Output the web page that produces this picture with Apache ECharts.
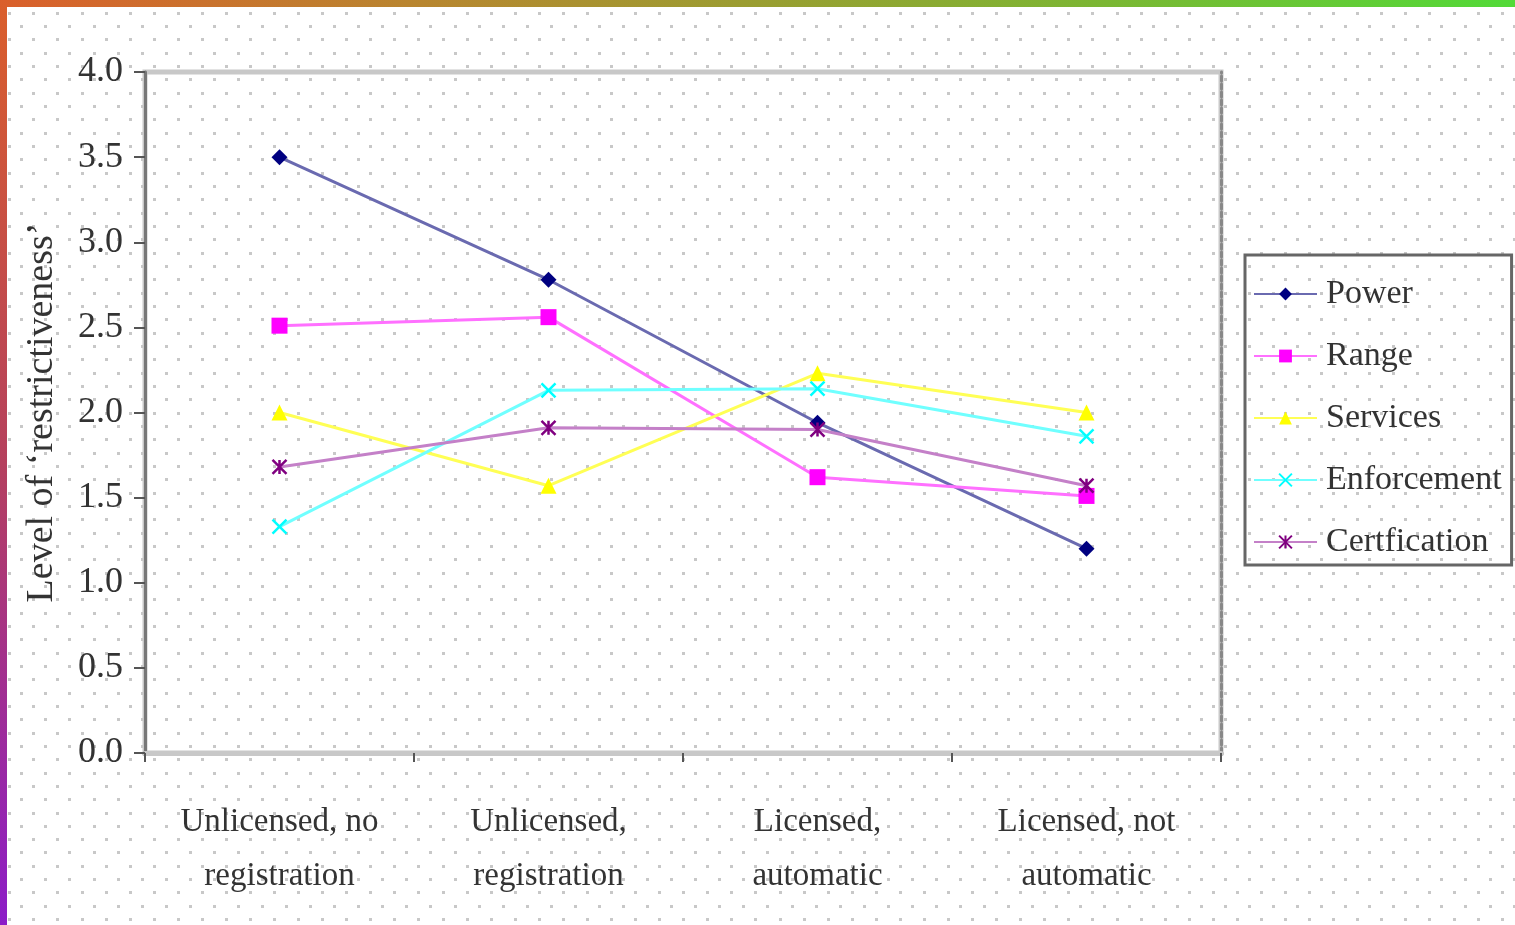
<!DOCTYPE html>
<html>
<head>
<meta charset="utf-8">
<title>Level of restrictiveness by licensing regime</title>
<script src="https://cdn.jsdelivr.net/npm/echarts@6/dist/echarts.min.js"></script>
<style>
  html, body { margin: 0; padding: 0; background: #ffffff; }
  #chart { width: 1515px; height: 925px; }
</style>
</head>
<body>
<div id="chart"></div>
<script>
// Licensing regimes along the x axis
const categories = [
  'Unlicensed, no\nregistration',
  'Unlicensed,\nregistration',
  'Licensed,\nautomatic',
  'Licensed, not\nautomatic'
];

// Level of restrictiveness per dimension
const power         = [3.50, 2.78, 1.94, 1.20];
const range         = [2.51, 2.56, 1.62, 1.51];
const services      = [2.00, 1.57, 2.23, 2.00];
const enforcement   = [1.33, 2.13, 2.14, 1.86];
const certification = [1.68, 1.91, 1.90, 1.57];

const seriesNames = ['Power', 'Range', 'Services', 'Enforcement', 'Certfication'];

// Y axis scale
const yMin = 0, yMax = 4, yStep = 0.5;

const SERIF = '"Liberation Serif", "DejaVu Serif", "Times New Roman", serif';
const TEXT = '#333333';

// Dotted paper texture behind the whole chart
function dottedTexture(w, h) {
  const c = document.createElement('canvas');
  c.width = w; c.height = h;
  const ctx = c.getContext('2d');
  ctx.fillStyle = '#ffffff';
  ctx.fillRect(0, 0, w, h);
  ctx.fillStyle = '#c8c8c8';
  const dx = 24.07, dy = 13.33;
  let row = 0;
  for (let y = 12.7; y < h; y += dy, row++) {
    const off = (row % 2) ? 12.0 : 0;
    for (let x = 9.3 + off - dx; x < w; x += dx) {
      ctx.fillRect(Math.round(x) - 1, Math.round(y) - 1, 3, 3);
    }
  }
  return c;
}

const xShape = 'path://M0,0L10,10M10,0L0,10';
const starShape = 'path://M0,0L10,10M10,0L0,10M5,0L5,10';

function lineSeries(name, data, lineColor, markColor, symbol, size, stroke) {
  return {
    name: name,
    type: 'line',
    data: data,
    symbol: symbol,
    symbolSize: size,
    showSymbol: true,
    z: 3,
    lineStyle: { color: lineColor, width: 3 },
    itemStyle: stroke
      ? { color: markColor, borderColor: markColor, borderWidth: 2.5 }
      : { color: markColor, borderWidth: 0 },
    emphasis: { disabled: true },
    animation: false
  };
}

const chart = echarts.init(document.getElementById('chart'), null, { renderer: 'canvas' });

chart.setOption({
  backgroundColor: '#ffffff',
  animation: false,
  graphic: [
    {
      type: 'image', z: -100, silent: true,
      style: { image: dottedTexture(1515, 925), x: 0, y: 0, width: 1515, height: 925 }
    },
    {
      type: 'rect', z: 100, silent: true,
      shape: { x: 0, y: 0, width: 1515, height: 7 },
      style: {
        fill: new echarts.graphic.LinearGradient(0, 0, 1, 0, [
          { offset: 0, color: '#da5f2b' },
          { offset: 0.27, color: '#b9852f' },
          { offset: 0.73, color: '#7bb733' },
          { offset: 1, color: '#52da38' }
        ])
      }
    },
    {
      type: 'rect', z: 100, silent: true,
      shape: { x: 0, y: 0, width: 7, height: 925 },
      style: {
        fill: new echarts.graphic.LinearGradient(0, 0, 0, 1, [
          { offset: 0, color: '#da5f2b' },
          { offset: 0.5, color: '#b5405e' },
          { offset: 1, color: '#8c1cc8' }
        ])
      }
    }
  ],
  grid: {
    left: 145, top: 72, right: 294, bottom: 172,
    show: true,
    borderColor: '#c8c8c8',
    borderWidth: 5,
    backgroundColor: 'transparent',
    containLabel: false
  },
  legend: {
    data: seriesNames,
    orient: 'vertical',
    left: 1245,
    top: 255,
    width: 268,
    padding: [22, 10, 6, 8],
    borderColor: '#666666',
    borderWidth: 3,
    itemWidth: 63,
    itemHeight: 16,
    itemGap: 28,
    selectedMode: false,
    textStyle: {
      fontFamily: SERIF, fontSize: 34, color: TEXT, lineHeight: 34,
      padding: [0, 0, 0, 4]
    }
  },
  xAxis: [
    {
      type: 'category',
      data: categories,
      boundaryGap: true,
      axisLine: { lineStyle: { color: '#999999', width: 5 } },
      axisTick: { show: true, alignWithLabel: false, length: 9, lineStyle: { color: '#555', width: 2 } },
      axisLabel: {
        fontFamily: SERIF, fontSize: 33, color: TEXT,
        lineHeight: 54, margin: 42, interval: 0
      },
      splitLine: { show: false }
    },
    {
      type: 'category',
      data: categories,
      position: 'top',
      axisLine: { lineStyle: { color: '#c8c8c8', width: 5 } },
      axisTick: { show: false },
      axisLabel: { show: false }
    }
  ],
  yAxis: [
    {
      type: 'value',
      min: yMin, max: yMax, interval: yStep,
      name: 'Level of ‘restrictiveness’',
      nameLocation: 'middle',
      nameRotate: 90,
      nameGap: 84,
      nameTextStyle: { fontFamily: SERIF, fontSize: 38, color: TEXT },
      axisLine: { show: true, lineStyle: { color: '#777777', width: 3 } },
      axisTick: { show: true, length: 11, lineStyle: { color: '#555', width: 2 } },
      axisLabel: {
        fontFamily: SERIF, fontSize: 36, color: TEXT, margin: 22,
        formatter: v => v.toFixed(1)
      },
      splitLine: { show: false }
    },
    {
      type: 'value',
      min: yMin, max: yMax, interval: yStep,
      position: 'right',
      axisLine: { show: true, lineStyle: { color: '#888888', width: 3, type: [5, 3] } },
      axisTick: { show: false },
      axisLabel: { show: false },
      splitLine: { show: false }
    }
  ],
  series: [
    lineSeries('Power', power, '#6a6ab0', '#000080', 'diamond', 16, false),
    lineSeries('Range', range, '#ff70ff', '#ff00ff', 'rect', 16, false),
    lineSeries('Services', services, '#ffff55', '#ffff00', 'triangle', 16, false),
    lineSeries('Enforcement', enforcement, '#70ffff', '#00ffff', xShape, 14, true),
    lineSeries('Certfication', certification, '#c480c8', '#800080', starShape, 14, true)
  ]
});
</script>
</body>
</html>
